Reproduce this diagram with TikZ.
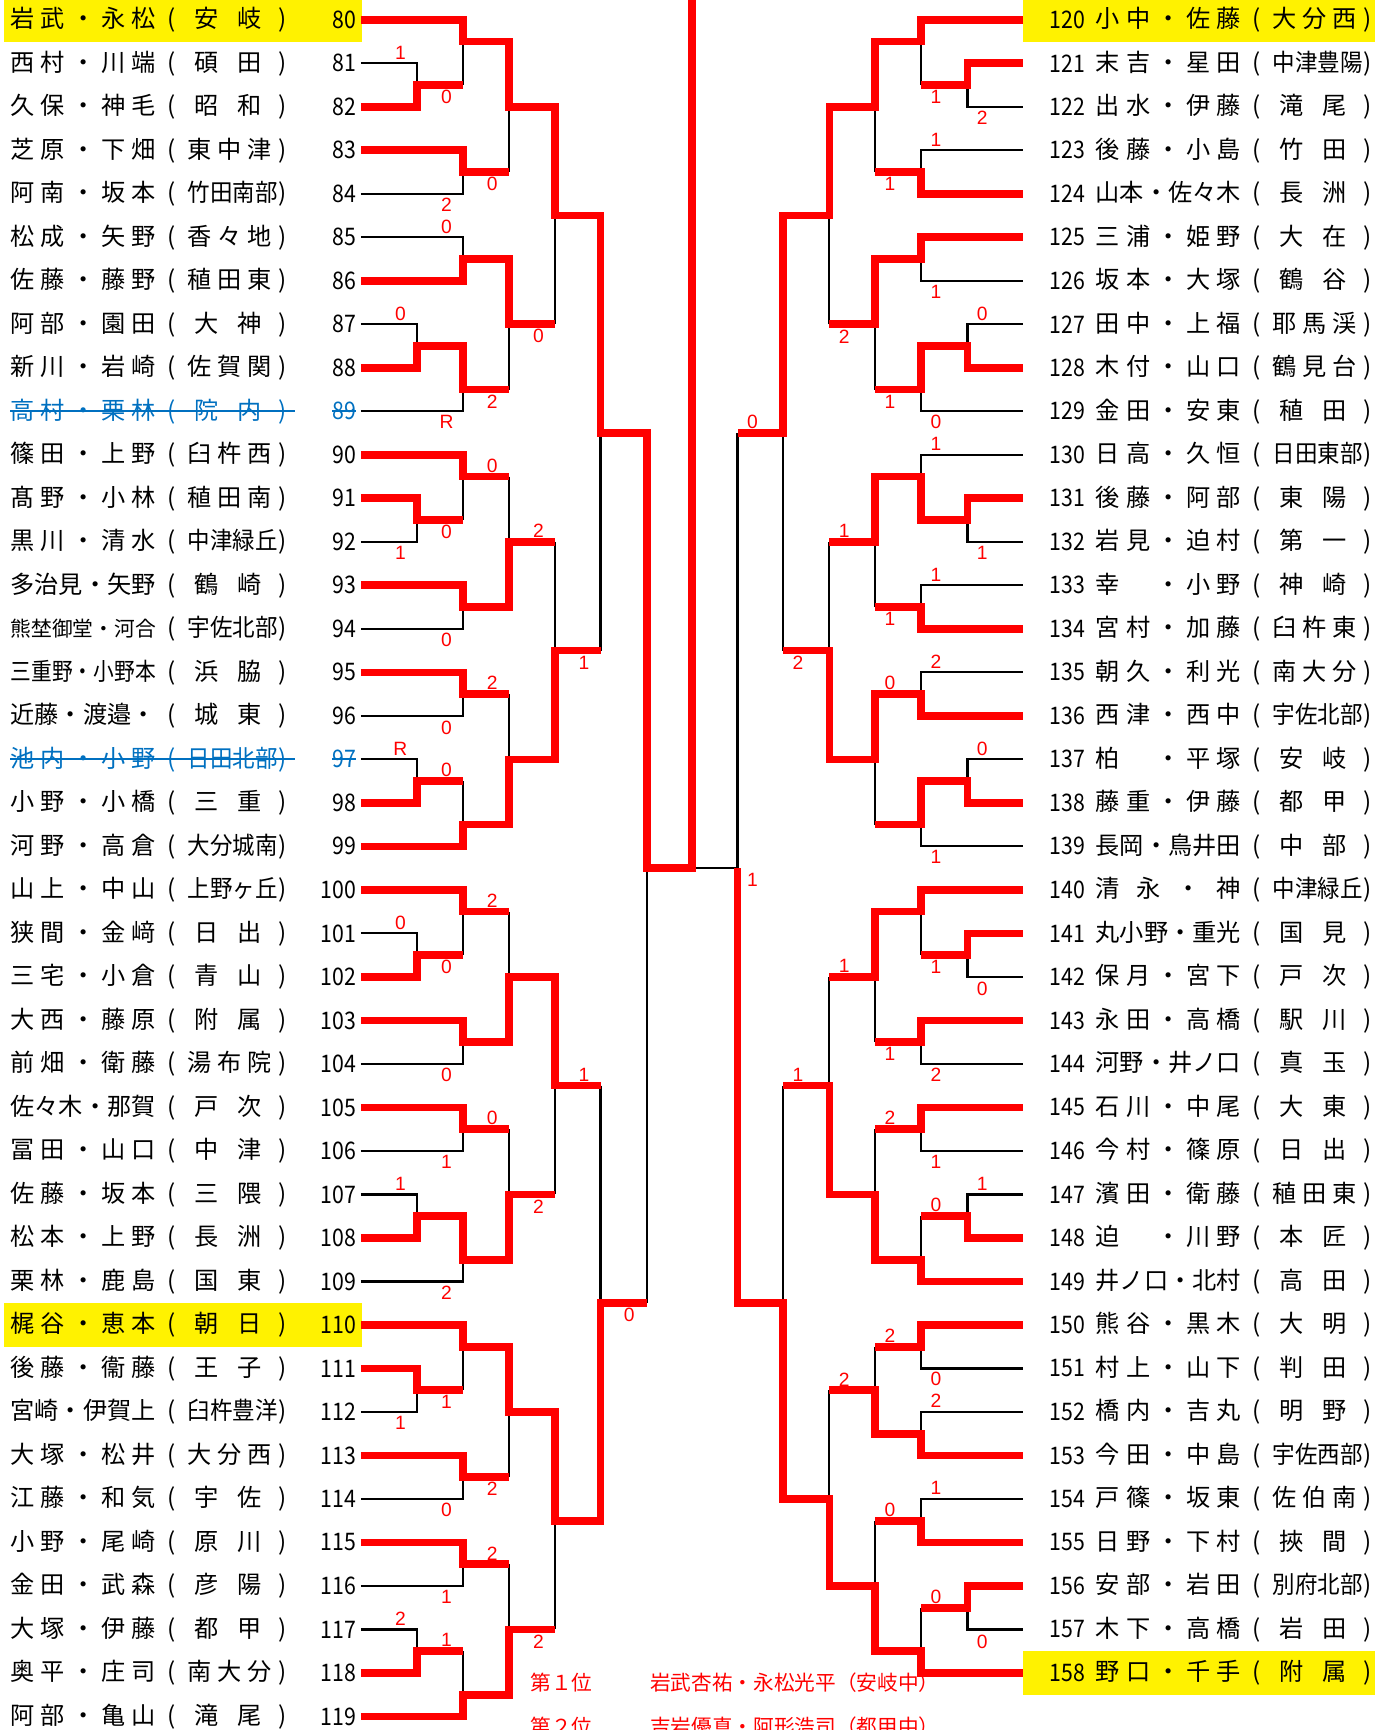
\documentclass[tikz,border=0pt]{standalone}
\usepackage{fontspec}
\setmainfont{Noto Sans CJK JP}
\newfontfamily\numfont[FakeStretch=0.88]{Noto Sans CJK JP}
\newfontfamily\scorefont{Liberation Sans}
\usepackage{graphicx}
\usepackage{xcolor}
\usepackage{tikz}
\usetikzlibrary{positioning}
\definecolor{strikeblue}{RGB}{0,112,192}

%% spread the characters of a name over its box
\def\sprd#1{\sprdA#1\sprdEnd}
\def\sprdA#1#2\sprdEnd{#1\ifx\relax#2\relax\else\hfil\sprdA#2\sprdEnd\fi}
\newcommand\gapch{\hbox to 1em{}}
\newcommand\spbox[2]{\setbox0\hbox{\sprd{#2}}%
  \ifdim\wd0>#1\relax\resizebox{#1}{\height}{\sprd{#2}}\else\makebox[#1][s]{\sprd{#2}}\fi}
\newcommand\tnm[2]{\spbox{132pt}{#1}\makebox[29pt]{(}\makebox[76pt][s]{\sprd{#2}}\makebox[21pt]{)}}
\newcommand\tnd[2]{\spbox{132pt}{#1}\makebox[29pt]{(}\makebox[76pt][s]{\hskip6pt\sprd{#2}\hskip9pt}\makebox[21pt]{)}}
\newcommand\tnw[2]{\spbox{132pt}{#1}\makebox[29pt]{(}\makebox[76pt][l]{\scalebox{0.93}[1]{#2}}\makebox[21pt]{)}}
\newcommand\tns[2]{\resizebox{132pt}{!}{#1}\makebox[29pt]{(}\makebox[76pt][l]{\scalebox{0.93}[1]{#2}}\makebox[21pt]{)}}
\newcommand\numcol[1]{\ifnum#1=89 \color{strikeblue}\fi\ifnum#1=97 \color{strikeblue}\fi}

%% bracket columns
\newcommand\xLa{379}
\newcommand\xLb{421}
\newcommand\xLc{462.5}
\newcommand\xLd{504.5}
\newcommand\xLe{546}
\newcommand\xLf{588}
\newcommand\xMid{629}
\newcommand\xRa{879.5}
\newcommand\xRb{837.5}
\newcommand\xRc{795.5}
\newcommand\xRd{754}
\newcommand\xRe{712}
\newcommand\xRf{670.5}

\begin{document}
\begin{tikzpicture}[x=1pt, y=-19.775pt,
      win/.style={draw=red, line width=7pt, line join=miter},
      lose/.style={draw=black, line width=2pt},
      hilite/.style={fill=yellow, draw=none},
      numL/.style={anchor=east, inner xsep=4pt, inner ysep=0pt,
      font=\numfont\fontsize{22}{22}\selectfont},
      numR/.style={anchor=west, inner xsep=24pt, inner ysep=0pt,
      font=\numfont\fontsize{22}{22}\selectfont},
      tname/.style={anchor=west, inner sep=0pt, font=\fontsize{22}{22}\selectfont},
      score/.style={text=red, inner sep=0pt, font=\scorefont\fontsize{17.5}{17.5}\selectfont},
      strike/.style={draw=strikeblue, line width=1.6pt},
      legend/.style={text=red, anchor=west, inner sep=0pt,
      font=\fontsize{18.8}{18.8}\selectfont}]
    \useasboundingbox (0,-0.9103) rectangle (1250,78.624);
    %% winners of each block
    \fill[hilite] (4,-1.02) rectangle (329,1.01);
    \fill[hilite] (4,58.99) rectangle (329,61.01);
    \fill[hilite] (930,-1.02) rectangle (1252,1.01);
    \fill[hilite] (930,74.99) rectangle (1252,77.01);

    %% Numbers
    \foreach \i in {80,...,119}
      \node[numL] (n\i) at (328,{2*(\i-80)}) {\numcol{\i}\i};
    \foreach \i in {120,...,158}
      \node[numR] (n\i) at (930,{2*(\i-120)}) {\i};

    %% Left names
    \node[tname] (m80) at (9.4,0) {\tnd{岩武・永松}{安岐}};
    \node[tname] (m81) at (9.4,2) {\tnd{西村・川端}{碩田}};
    \node[tname] (m82) at (9.4,4) {\tnd{久保・神毛}{昭和}};
    \node[tname] (m83) at (9.4,6) {\tnm{芝原・下畑}{東中津}};
    \node[tname] (m84) at (9.4,8) {\tnw{阿南・坂本}{竹田南部}};
    \node[tname] (m85) at (9.4,10) {\tnm{松成・矢野}{香々地}};
    \node[tname] (m86) at (9.4,12) {\tnm{佐藤・藤野}{稙田東}};
    \node[tname] (m87) at (9.4,14) {\tnd{阿部・園田}{大神}};
    \node[tname] (m88) at (9.4,16) {\tnm{新川・岩崎}{佐賀関}};
    \node[tname, text=strikeblue] (m89) at (9.4,18) {\tnd{高村・栗林}{院内}};
    \node[tname] (m90) at (9.4,20) {\tnm{篠田・上野}{臼杵西}};
    \node[tname] (m91) at (9.4,22) {\tnm{髙野・小林}{稙田南}};
    \node[tname] (m92) at (9.4,24) {\tnw{黒川・清水}{中津緑丘}};
    \node[tname] (m93) at (9.4,26) {\tnd{多治見・矢野}{鶴崎}};
    \node[tname] (m94) at (9.4,28) {\tns{熊埜御堂・河合}{宇佐北部}};
    \node[tname] (m95) at (9.4,30) {\tnd{三重野・小野本}{浜脇}};
    \node[tname] (m96) at (9.4,32) {\tnd{近藤・渡邉・}{城東}};
    \node[tname, text=strikeblue] (m97) at (9.4,34) {\tnw{池内・小野}{日田北部}};
    \node[tname] (m98) at (9.4,36) {\tnd{小野・小橋}{三重}};
    \node[tname] (m99) at (9.4,38) {\tnw{河野・高倉}{大分城南}};
    \node[tname] (m100) at (9.4,40) {\tnw{山上・中山}{上野ヶ丘}};
    \node[tname] (m101) at (9.4,42) {\tnd{狭間・金﨑}{日出}};
    \node[tname] (m102) at (9.4,44) {\tnd{三宅・小倉}{青山}};
    \node[tname] (m103) at (9.4,46) {\tnd{大西・藤原}{附属}};
    \node[tname] (m104) at (9.4,48) {\tnm{前畑・衛藤}{湯布院}};
    \node[tname] (m105) at (9.4,50) {\tnd{佐々木・那賀}{戸次}};
    \node[tname] (m106) at (9.4,52) {\tnd{冨田・山口}{中津}};
    \node[tname] (m107) at (9.4,54) {\tnd{佐藤・坂本}{三隈}};
    \node[tname] (m108) at (9.4,56) {\tnd{松本・上野}{長洲}};
    \node[tname] (m109) at (9.4,58) {\tnd{栗林・鹿島}{国東}};
    \node[tname] (m110) at (9.4,60) {\tnd{梶谷・恵本}{朝日}};
    \node[tname] (m111) at (9.4,62) {\tnd{後藤・衞藤}{王子}};
    \node[tname] (m112) at (9.4,64) {\tnw{宮崎・伊賀上}{臼杵豊洋}};
    \node[tname] (m113) at (9.4,66) {\tnm{大塚・松井}{大分西}};
    \node[tname] (m114) at (9.4,68) {\tnd{江藤・和気}{宇佐}};
    \node[tname] (m115) at (9.4,70) {\tnd{小野・尾崎}{原川}};
    \node[tname] (m116) at (9.4,72) {\tnd{金田・武森}{彦陽}};
    \node[tname] (m117) at (9.4,74) {\tnd{大塚・伊藤}{都甲}};
    \node[tname] (m118) at (9.4,76) {\tnm{奥平・庄司}{南大分}};
    \node[tname] (m119) at (9.4,78) {\tnd{阿部・亀山}{滝尾}};

    %% Right names
    \node[tname] (m120) at (996,0) {\tnm{小中・佐藤}{大分西}};
    \node[tname] (m121) at (996,2) {\tnw{末吉・星田}{中津豊陽}};
    \node[tname] (m122) at (996,4) {\tnd{出水・伊藤}{滝尾}};
    \node[tname] (m123) at (996,6) {\tnd{後藤・小島}{竹田}};
    \node[tname] (m124) at (996,8) {\tnd{山本・佐々木}{長洲}};
    \node[tname] (m125) at (996,10) {\tnd{三浦・姫野}{大在}};
    \node[tname] (m126) at (996,12) {\tnd{坂本・大塚}{鶴谷}};
    \node[tname] (m127) at (996,14) {\tnm{田中・上福}{耶馬渓}};
    \node[tname] (m128) at (996,16) {\tnm{木付・山口}{鶴見台}};
    \node[tname] (m129) at (996,18) {\tnd{金田・安東}{稙田}};
    \node[tname] (m130) at (996,20) {\tnw{日高・久恒}{日田東部}};
    \node[tname] (m131) at (996,22) {\tnd{後藤・阿部}{東陽}};
    \node[tname] (m132) at (996,24) {\tnd{岩見・迫村}{第一}};
    \node[tname] (m133) at (996,26) {\tnd{幸\gapch ・小野}{神崎}};
    \node[tname] (m134) at (996,28) {\tnm{宮村・加藤}{臼杵東}};
    \node[tname] (m135) at (996,30) {\tnm{朝久・利光}{南大分}};
    \node[tname] (m136) at (996,32) {\tnw{西津・西中}{宇佐北部}};
    \node[tname] (m137) at (996,34) {\tnd{柏\gapch ・平塚}{安岐}};
    \node[tname] (m138) at (996,36) {\tnd{藤重・伊藤}{都甲}};
    \node[tname] (m139) at (996,38) {\tnd{長岡・鳥井田}{中部}};
    \node[tname] (m140) at (996,40) {\tnw{清永・神}{中津緑丘}};
    \node[tname] (m141) at (996,42) {\tnd{丸小野・重光}{国見}};
    \node[tname] (m142) at (996,44) {\tnd{保月・宮下}{戸次}};
    \node[tname] (m143) at (996,46) {\tnd{永田・高橋}{駅川}};
    \node[tname] (m144) at (996,48) {\tnd{河野・井ノ口}{真玉}};
    \node[tname] (m145) at (996,50) {\tnd{石川・中尾}{大東}};
    \node[tname] (m146) at (996,52) {\tnd{今村・篠原}{日出}};
    \node[tname] (m147) at (996,54) {\tnm{濱田・衛藤}{稙田東}};
    \node[tname] (m148) at (996,56) {\tnd{迫\gapch ・川野}{本匠}};
    \node[tname] (m149) at (996,58) {\tnd{井ノ口・北村}{高田}};
    \node[tname] (m150) at (996,60) {\tnd{熊谷・黒木}{大明}};
    \node[tname] (m151) at (996,62) {\tnd{村上・山下}{判田}};
    \node[tname] (m152) at (996,64) {\tnd{橋内・吉丸}{明野}};
    \node[tname] (m153) at (996,66) {\tnw{今田・中島}{宇佐西部}};
    \node[tname] (m154) at (996,68) {\tnm{戸篠・坂東}{佐伯南}};
    \node[tname] (m155) at (996,70) {\tnd{日野・下村}{挾間}};
    \node[tname] (m156) at (996,72) {\tnw{安部・岩田}{別府北部}};
    \node[tname] (m157) at (996,74) {\tnd{木下・高橋}{岩田}};
    \node[tname] (m158) at (996,76) {\tnd{野口・千手}{附属}};

    %% withdrawn pairs
    \draw[strike] (m89.west) -- (m89.east);
    \draw[strike] ([xshift=4pt]n89.west) -- ([xshift=-4pt]n89.east);
    \draw[strike] (m97.west) -- (m97.east);
    \draw[strike] ([xshift=4pt]n97.west) -- ([xshift=-4pt]n97.east);

    %% Left side, losers
    \draw[lose] (n81.east) -| (\xLa,3);
    \draw[lose] (\xLb,3) -- (\xLb,1);
    \draw[lose] (\xLc,7) -- (\xLc,4);
    \draw[lose] (n84.east) -| (\xLb,7);
    \draw[lose] (n85.east) -| (\xLb,11);
    \draw[lose] (\xLd,14) -- (\xLd,9);
    \draw[lose] (n87.east) -| (\xLa,15);
    \draw[lose] (\xLc,17) -- (\xLc,14);
    \draw[lose] (n89.east) -| (\xLb,17);
    \draw[lose] (\xLc,21) -- (\xLc,24);
    \draw[lose] (\xLb,23) -- (\xLb,21);
    \draw[lose] (n92.east) -| (\xLa,23);
    \draw[lose] (\xLd,24) -- (\xLd,29);
    \draw[lose] (n94.east) -| (\xLb,27);
    \draw[lose] (\xLc,31) -- (\xLc,34);
    \draw[lose] (n96.east) -| (\xLb,31);
    \draw[lose] (n97.east) -| (\xLa,35);
    \draw[lose] (\xLb,35) -- (\xLb,37);
    \draw[lose] (\xLe,29) -- (\xLe,19);
    \draw[lose] (\xLc,41) -- (\xLc,44);
    \draw[lose] (n101.east) -| (\xLa,43);
    \draw[lose] (\xLb,43) -- (\xLb,41);
    \draw[lose] (\xLe,49) -- (\xLe,59);
    \draw[lose] (n104.east) -| (\xLb,47);
    \draw[lose] (\xLc,51) -- (\xLc,54);
    \draw[lose] (n106.east) -| (\xLb,51);
    \draw[lose] (n107.east) -| (\xLa,55);
    \draw[lose] (\xLd,54) -- (\xLd,49);
    \draw[lose] (n109.east) -| (\xLb,57);
    \draw[lose] (\xLf,59) -- (\xLf,39);
    \draw[lose] (\xLb,63) -- (\xLb,61);
    \draw[lose] (n112.east) -| (\xLa,63);
    \draw[lose] (\xLc,67) -- (\xLc,64);
    \draw[lose] (n114.east) -| (\xLb,67);
    \draw[lose] (\xLc,71) -- (\xLc,74);
    \draw[lose] (n116.east) -| (\xLb,71);
    \draw[lose] (n117.east) -| (\xLa,75);
    \draw[lose] (\xLb,75) -- (\xLb,77);
    \draw[lose] (\xLd,74) -- (\xLd,69);

    %% Right side, losers
    \draw[lose] (\xRf,19) -- (\xRf,39);
    \draw[lose] (\xRb,3) -- (\xRb,1);
    \draw[lose] (n122.west) -| (\xRa,3);
    \draw[lose] (n123.west) -| (\xRb,7);
    \draw[lose] (\xRc,7) -- (\xRc,4);
    \draw[lose] (\xRd,14) -- (\xRd,9);
    \draw[lose] (n126.west) -| (\xRb,11);
    \draw[lose] (n127.west) -| (\xRa,15);
    \draw[lose] (\xRc,17) -- (\xRc,14);
    \draw[lose] (n129.west) -| (\xRb,17);
    \draw[lose] (n130.west) -| (\xRb,21);
    \draw[lose] (\xRd,24) -- (\xRd,29);
    \draw[lose] (n132.west) -| (\xRa,23);
    \draw[lose] (n133.west) -| (\xRb,27);
    \draw[lose] (\xRc,27) -- (\xRc,24);
    \draw[lose] (n135.west) -| (\xRb,31);
    \draw[lose] (\xRe,29) -- (\xRe,19);
    \draw[lose] (n137.west) -| (\xRa,35);
    \draw[lose] (\xRc,37) -- (\xRc,34);
    \draw[lose] (n139.west) -| (\xRb,37);
    \draw[lose] (\xRd,44) -- (\xRd,49);
    \draw[lose] (\xRb,43) -- (\xRb,41);
    \draw[lose] (n142.west) -| (\xRa,43);
    \draw[lose] (\xRc,47) -- (\xRc,44);
    \draw[lose] (n144.west) -| (\xRb,47);
    \draw[lose] (\xRc,51) -- (\xRc,54);
    \draw[lose] (n146.west) -| (\xRb,51);
    \draw[lose] (n147.west) -| (\xRa,55);
    \draw[lose] (\xRb,55) -- (\xRb,57);
    \draw[lose] (\xRe,49) -- (\xRe,59);
    \draw[lose] (\xRc,61) -- (\xRc,63);
    \draw[lose] (n151.west) -| (\xRb,61);
    \draw[lose] (n152.west) -| (\xRb,65);
    \draw[lose] (\xRd,63) -- (\xRd,68);
    \draw[lose] (n154.west) -| (\xRb,69);
    \draw[lose] (\xRc,69) -- (\xRc,72);
    \draw[lose] (\xRb,73) -- (\xRb,75);
    \draw[lose] (n157.west) -| (\xRa,73);
    \draw[lose] (\xRf,39) -- (\xMid,39);

    %% Left side, winners
    \draw[win] (n80.east) -| (\xLb,1) -| (\xLc,4) -| (\xLd,9) -| (\xLe,19) -| (\xLf,39) -| (\xMid,-2);
    \draw[win] (n82.east) -| (\xLa,3) -- (\xLb,3);
    \draw[win] (n83.east) -| (\xLb,7) -- (\xLc,7);
    \draw[win] (n86.east) -| (\xLb,11) -| (\xLc,14) -- (\xLd,14);
    \draw[win] (n88.east) -| (\xLa,15) -| (\xLb,17) -- (\xLc,17);
    \draw[win] (n90.east) -| (\xLb,21) -- (\xLc,21);
    \draw[win] (n91.east) -| (\xLa,23) -- (\xLb,23);
    \draw[win] (n93.east) -| (\xLb,27) -| (\xLc,24) -- (\xLd,24);
    \draw[win] (n95.east) -| (\xLb,31) -- (\xLc,31);
    \draw[win] (n98.east) -| (\xLa,35) -- (\xLb,35);
    \draw[win] (n99.east) -| (\xLb,37) -| (\xLc,34) -| (\xLd,29) -- (\xLe,29);
    \draw[win] (n100.east) -| (\xLb,41) -- (\xLc,41);
    \draw[win] (n102.east) -| (\xLa,43) -- (\xLb,43);
    \draw[win] (n103.east) -| (\xLb,47) -| (\xLc,44) -| (\xLd,49) -- (\xLe,49);
    \draw[win] (n105.east) -| (\xLb,51) -- (\xLc,51);
    \draw[win] (n108.east) -| (\xLa,55) -| (\xLb,57) -| (\xLc,54) -- (\xLd,54);
    \draw[win] (n110.east) -| (\xLb,61) -| (\xLc,64) -| (\xLd,69) -| (\xLe,59) -- (\xLf,59);
    \draw[win] (n111.east) -| (\xLa,63) -- (\xLb,63);
    \draw[win] (n113.east) -| (\xLb,67) -- (\xLc,67);
    \draw[win] (n115.east) -| (\xLb,71) -- (\xLc,71);
    \draw[win] (n118.east) -| (\xLa,75) -- (\xLb,75);
    \draw[win] (n119.east) -| (\xLb,77) -| (\xLc,74) -- (\xLd,74);

    %% Right side, winners
    \draw[win] (n120.west) -| (\xRb,1) -| (\xRc,4) -| (\xRd,9) -| (\xRe,19) -- (\xRf,19);
    \draw[win] (n121.west) -| (\xRa,3) -- (\xRb,3);
    \draw[win] (n124.west) -| (\xRb,7) -- (\xRc,7);
    \draw[win] (n125.west) -| (\xRb,11) -| (\xRc,14) -- (\xRd,14);
    \draw[win] (n128.west) -| (\xRa,15) -| (\xRb,17) -- (\xRc,17);
    \draw[win] (n131.west) -| (\xRa,23) -| (\xRb,21) -| (\xRc,24) -- (\xRd,24);
    \draw[win] (n134.west) -| (\xRb,27) -- (\xRc,27);
    \draw[win] (n136.west) -| (\xRb,31) -| (\xRc,34) -| (\xRd,29) -- (\xRe,29);
    \draw[win] (n138.west) -| (\xRa,35) -| (\xRb,37) -- (\xRc,37);
    \draw[win] (n140.west) -| (\xRb,41) -| (\xRc,44) -- (\xRd,44);
    \draw[win] (n141.west) -| (\xRa,43) -- (\xRb,43);
    \draw[win] (n143.west) -| (\xRb,47) -- (\xRc,47);
    \draw[win] (n145.west) -| (\xRb,51) -- (\xRc,51);
    \draw[win] (n148.west) -| (\xRa,55) -- (\xRb,55);
    \draw[win] (n149.west) -| (\xRb,57) -| (\xRc,54) -| (\xRd,49) -- (\xRe,49);
    \draw[win] (n150.west) -| (\xRb,61) -- (\xRc,61);
    \draw[win] (n153.west) -| (\xRb,65) -| (\xRc,63) -- (\xRd,63);
    \draw[win] (n155.west) -| (\xRb,69) -- (\xRc,69);
    \draw[win] (n156.west) -| (\xRa,73) -- (\xRb,73);
    \draw[win] (n158.west) -| (\xRb,75) -| (\xRc,72) -| (\xRd,68) -| (\xRe,59) -| (\xRf,39);

    %% Scores
    \foreach \x/\k/\s [count=\j] in {364/1.5/1, 406/3.55/0, 447.5/7.55/0, 406/8.5/2,
        406/9.5/0, 364/13.5/0, 489.5/14.55/0, 447.5/17.55/2, 406/18.5/R,
        447.5/20.5/0, 406/23.55/0, 364/24.5/1, 489.5/23.5/2, 406/28.5/0,
        531/29.55/1, 447.5/30.5/2, 406/32.55/0, 364/33.5/R, 406/34.5/0,
        447.5/40.5/2, 364/41.5/0, 406/43.55/0, 406/48.5/0, 531/48.5/1,
        447.5/50.5/0, 406/52.5/1, 364/53.5/1, 489.5/54.55/2, 406/58.5/2,
        572/59.55/0, 406/63.55/1, 364/64.5/1, 447.5/67.55/2, 406/68.5/0,
        447.5/70.5/2, 406/72.5/1, 364/73.5/2, 406/74.5/1, 489.5/74.55/2}
      \node[score] (sl\j) at (\x,\k) {\s};
    \foreach \x/\k/\s [count=\j] in {851/3.55/1, 893/4.5/2, 851/5.5/1, 809/7.55/1,
        851/12.5/1, 893/13.5/0, 767.5/14.55/2, 809/17.55/1, 851/18.5/0,
        684/18.5/0, 851/19.5/1, 767.5/23.5/1, 893/24.5/1, 851/25.5/1,
        809/27.55/1, 851/29.5/2, 725.5/29.55/2, 809/30.5/0, 893/33.5/0,
        851/38.5/1, 684/39.55/1, 767.5/43.5/1, 851/43.55/1, 893/44.55/0,
        809/47.55/1, 851/48.5/2, 725.5/48.5/1, 809/50.5/2, 851/52.5/1,
        893/53.5/1, 851/54.5/0, 809/60.5/2, 851/62.5/0, 767.5/62.5/2,
        851/63.5/2, 851/67.5/1, 809/68.5/0, 851/72.5/0, 893/74.55/0}
      \node[score] (sr\j) at (\x,\k) {\s};

    %% Result
    \node[legend] (r1) at (482,76.46) {第１位};
    \node[legend, right=52pt of r1] (w1) {岩武杏祐・永松光平（安岐中）};
    \node[legend] (r2) at (482,78.48) {第２位};
    \node[legend, right=52pt of r2] (w2) {吉岩優真・阿形浩司（都甲中）};
  \end{tikzpicture}
\end{document}
